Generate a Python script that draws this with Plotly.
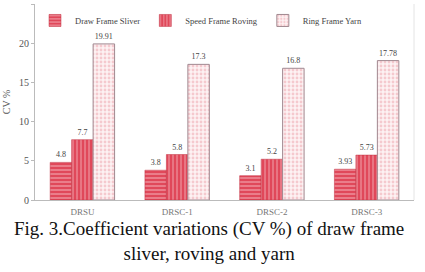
import plotly.graph_objects as go

categories = ["DRSU", "DRSC-1", "DRSC-2", "DRSC-3"]
draw_frame = [4.8, 3.8, 3.1, 3.93]
speed_frame = [7.7, 5.8, 5.2, 5.73]
ring_frame = [19.91, 17.3, 16.8, 17.78]
draw_labels = ["4.8", "3.8", "3.1", "3.93"]
speed_labels = ["7.7", "5.8", "5.2", "5.73"]
ring_labels = ["19.91", "17.3", "16.8", "17.78"]

serif = "Liberation Serif"
red = "#e0485a"

fig = go.Figure()
fig.add_trace(go.Bar(
    name="Draw Frame Sliver", x=categories, y=draw_frame, text=draw_labels,
    marker=dict(color=red, line=dict(color="#c03040", width=0.5),
                pattern=dict(shape="-", fgcolor="#fbe0e3", bgcolor=red, size=4, solidity=0.35)),
))
fig.add_trace(go.Bar(
    name="Speed Frame Roving", x=categories, y=speed_frame, text=speed_labels,
    marker=dict(color=red, line=dict(color="#c03040", width=0.5),
                pattern=dict(shape="|", fgcolor="#fbe0e3", bgcolor=red, size=4, solidity=0.3)),
))
fig.add_trace(go.Bar(
    name="Ring Frame Yarn", x=categories, y=ring_frame, text=ring_labels,
    marker=dict(color="#fdeef0", line=dict(color="#a08890", width=1),
                pattern=dict(shape=".", fgcolor="#eea0aa", bgcolor="#fdf2f3", size=4, solidity=0.4)),
))
fig.update_traces(textposition="outside", cliponaxis=False,
                  textfont=dict(family=serif, size=8, color="#444444"))

fig.update_layout(
    width=425, height=272,
    margin=dict(l=35, r=11, t=4, b=72),
    paper_bgcolor="white", plot_bgcolor="white",
    barmode="group", bargap=0.32, bargroupgap=0,
    showlegend=True,
    legend=dict(orientation="h", x=0.0, y=0.99, xanchor="left", yanchor="top",
                font=dict(family=serif, size=8.5, color="#444444"),
                bgcolor="rgba(0,0,0,0)", tracegroupgap=0),
    font=dict(family=serif, color="#444444"),
)
fig.update_yaxes(range=[0, 25], dtick=5, showgrid=False, showline=True,
                 linecolor="#bbbbbb", linewidth=1, ticks="outside", ticklen=3,
                 tickcolor="#bbbbbb", tickfont=dict(family=serif, size=10, color="#555555"),
                 title=dict(text="CV %", font=dict(family=serif, size=10, color="#555555"),
                            standoff=6), zeroline=False)
fig.update_xaxes(showgrid=False, showline=True, linecolor="#bbbbbb", linewidth=1,
                 ticks="", ticklabelstandoff=3,
                 tickfont=dict(family=serif, size=9, color="#777777"))

fig.add_shape(type="line", xref="paper", yref="paper", x0=1, x1=1, y0=0, y1=1,
              line=dict(color="#e4e4e4", width=1))

fig.add_annotation(xref="paper", yref="paper", x=0.46, y=-0.088, yanchor="top",
                   xanchor="center", showarrow=False, align="center", borderpad=0,
                   text="Fig. 3.Coefficient variations (CV %) of draw frame<br>sliver, roving and yarn",
                   font=dict(family=serif, size=19, color="#111111"))

fig.write_html("out.html")
